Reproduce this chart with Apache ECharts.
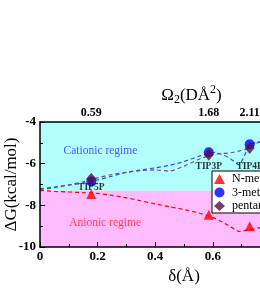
<!DOCTYPE html>
<html><head><meta charset="utf-8">
<script src="https://cdn.jsdelivr.net/npm/echarts@6/dist/echarts.min.js"></script>
<style>html,body{margin:0;padding:0;background:#fff}#c{width:260px;height:290px}</style>
</head><body><div id="c"></div>
<script>
// ---- data ----
const seriesNames = ['N-methylacetamide', '3-methylindole', 'pentanol'];
const waterModels = ['TIP5P', 'TIP3P', 'TIP4P'];
const deltaPts = [0.178, 0.586, 0.728];
const omegaLabels = ['0.59', '1.68', '2.11'];
const nmaVals = [-7.45, -8.45, -9.0];
const indoleVals = [-6.85, -5.45, -5.07];
const pentanolVals = [-6.72, -5.57, -5.25];
const fitDelta = [0, 0.05, 0.1, 0.15, 0.2, 0.25, 0.3, 0.35, 0.4, 0.45, 0.5, 0.55, 0.6, 0.63, 0.66, 0.69, 0.73, 0.76, 0.8];
const nmaFit = [-7.28, -7.33, -7.36, -7.39, -7.43, -7.52, -7.64, -7.78, -7.93, -8.07, -8.2, -8.36, -8.58, -8.78, -9.02, -9.25, -9.17, -9.08, -8.98];
const indoleFit = [-7.2, -7.12, -7.03, -6.93, -6.78, -6.6, -6.42, -6.3, -6.2, -6.08, -5.9, -5.65, -5.46, -5.55, -5.75, -6.05, -5.07, -4.98, -4.9];
const pentanolFit = [-7.25, -7.15, -7.02, -6.87, -6.68, -6.52, -6.42, -6.33, -6.3, -6.36, -6.12, -5.8, -5.56, -5.52, -5.48, -5.4, -5.25, -4.95, -4.6];
const regimeNames = ['Cationic regime', 'Anionic regime'];
const yMin = -10, yMax = -4, regimeBoundary = -7.3;
const xMin = 0, xMax = 1;

// ---- chart ----
const serif = 'Liberation Serif';
const RED = '#ff0000', BLUE = '#0000ff', PURPLE = '#5a0c48';
const pairs = (xs, ys) => xs.map((x, i) => [x, ys[i]]);
const labelOffsets = [6, 14, 22];

const fitLine = (vals, color) => ({
  type: 'line', data: pairs(fitDelta, vals), showSymbol: false, smooth: 0.2,
  lineStyle: {color: color, width: 1.2, type: [4, 3]}, silent: true, z: 3
});

const chart = echarts.init(document.getElementById('c'));
chart.setOption({
  animation: false,
  grid: {left: 40, top: 122, width: 288, height: 125, containLabel: false, outerBoundsMode: 'none'},
  xAxis: [{
    type: 'value', min: xMin, max: xMax, interval: 0.2, position: 'bottom', z: 10,
    axisLine: {lineStyle: {color: '#000', width: 1.5}},
    axisTick: {inside: true, length: 5, lineStyle: {color: '#000', width: 1}},
    minorTick: {show: true, splitNumber: 2, length: 3, lineStyle: {color: '#000', width: 1}},
    splitLine: {show: false},
    axisLabel: {fontFamily: serif, fontWeight: 'bold', fontSize: 13, color: '#000', margin: 3,
      formatter: v => String(Math.round(v * 10) / 10)},
    name: 'δ(Å)', nameLocation: 'middle', nameGap: 21,
    nameTextStyle: {fontFamily: serif, fontSize: 17, color: '#000'}
  }, {
    type: 'value', min: xMin, max: xMax, position: 'top', z: 10,
    axisLine: {show: true, lineStyle: {color: '#000', width: 1.5}},
    axisTick: {show: false},
    splitLine: {show: false},
    axisLabel: {fontFamily: serif, fontWeight: 'bold', fontSize: 12, color: '#000', margin: 3,
      customValues: deltaPts,
      formatter: v => omegaLabels[deltaPts.indexOf(v)]},
    name: 'Ω{sub|2}(DÅ{sup|2})', nameLocation: 'middle', nameGap: 14,
    nameTextStyle: {fontFamily: serif, fontSize: 17, color: '#000', padding: [0, 0, 0, 15],
      rich: {
        sub: {fontFamily: serif, fontSize: 12, color: '#000', padding: [10, 0, 0, 0]},
        sup: {fontFamily: serif, fontSize: 12, color: '#000', padding: [0, 0, 10, 0]}
      }}
  }],
  yAxis: {
    type: 'value', min: yMin, max: yMax, interval: 2, z: 10,
    axisLine: {show: true, lineStyle: {color: '#000', width: 1.5}},
    axisTick: {inside: true, length: 5, lineStyle: {color: '#000', width: 1}},
    minorTick: {show: true, splitNumber: 2, length: 3, lineStyle: {color: '#000', width: 1}},
    splitLine: {show: false},
    axisLabel: {fontFamily: serif, fontWeight: 'bold', fontSize: 13, color: '#000', margin: 4},
    name: 'ΔG(kcal/mol)', nameLocation: 'middle', nameGap: 20, nameRotate: 90, nameMoveOverlap: false,
    nameTextStyle: {fontFamily: serif, fontSize: 17, color: '#000'}
  },
  legend: {
    orient: 'vertical', left: 212, top: 171, padding: [2, 2, 1, 2],
    itemWidth: 11, itemHeight: 10, itemGap: 1.5,
    backgroundColor: '#fff', borderColor: '#000', borderWidth: 1, borderRadius: 0,
    textStyle: {fontFamily: serif, fontSize: 12, color: '#000', padding: [0, 0, 0, 2]},
    data: [
      {name: seriesNames[0], icon: 'triangle'},
      {name: seriesNames[1], icon: 'circle'},
      {name: seriesNames[2], icon: 'diamond'}
    ]
  },
  series: [
    {
      type: 'line', name: 'background', data: [[xMin, yMin]], showSymbol: false, silent: true, z: 1,
      lineStyle: {opacity: 0},
      markArea: {silent: true, data: [
        [{xAxis: xMin, yAxis: yMax, itemStyle: {color: '#b2ffff', opacity: 1}}, {xAxis: xMax, yAxis: regimeBoundary}],
        [{xAxis: xMin, yAxis: regimeBoundary, itemStyle: {color: '#ffbbff', opacity: 1}}, {xAxis: xMax, yAxis: yMin}]
      ]}
    },
    fitLine(nmaFit, RED),
    fitLine(indoleFit, '#2a4cf0'),
    fitLine(pentanolFit, '#7a4a78'),
    {
      type: 'scatter', name: 'regimes', silent: true, symbolSize: 0, z: 4,
      data: [
        {value: [0.21, -5.39], label: {formatter: regimeNames[0], color: '#2b2bff'}},
        {value: [0.226, -8.87], label: {formatter: regimeNames[1], color: '#ff2020'}}
      ],
      label: {show: true, position: 'inside', fontFamily: serif, fontSize: 11.5}
    },
    {
      type: 'scatter', name: seriesNames[0], symbol: 'triangle', symbolSize: 10, z: 5,
      itemStyle: {color: RED}, data: pairs(deltaPts, nmaVals)
    },
    {
      type: 'scatter', name: seriesNames[1], symbol: 'circle', symbolSize: 10, z: 5,
      itemStyle: {color: BLUE},
      data: pairs(deltaPts, indoleVals).map((p, i) => ({
        value: p,
        label: {show: true, formatter: waterModels[i], position: 'inside', offset: [0, labelOffsets[i]],
          fontFamily: serif, fontWeight: 'bold', fontSize: 9.5, color: '#000'}
      }))
    },
    {
      type: 'scatter', name: seriesNames[2], symbol: 'diamond', symbolSize: [10, 12], z: 6,
      itemStyle: {color: PURPLE}, data: pairs(deltaPts, pentanolVals)
    }
  ]
});
</script></body></html>
